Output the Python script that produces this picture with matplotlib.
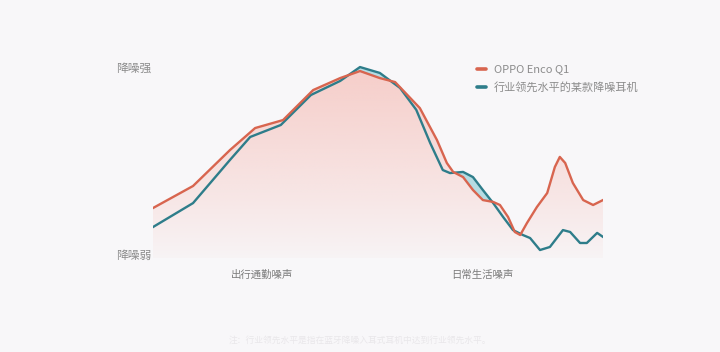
import numpy as np
import matplotlib
matplotlib.use('Agg')
import matplotlib.pyplot as plt
from matplotlib.colors import to_rgb

plt.rcParams['font.family'] = ['Noto Sans CJK SC', 'DejaVu Sans']

# position along the chart (0..100) and noise cancelling level (0 = weak, 100 = strong)
pos_q1 = [0, 8.9, 17.1, 22.7, 28.9, 35.6, 41.6, 46.0, 50.4, 53.8, 59.3, 63.1, 65.3,
          66.7, 68.9, 71.1, 73.3, 75.6, 77.1, 78.9, 80.4, 81.6, 83.1, 85.3, 87.6,
          89.3, 90.4, 91.6, 93.3, 95.6, 97.8, 100]
oppo_q1 = [26.3, 37.9, 56.8, 68.4, 72.6, 88.4, 94.7, 98.4, 94.7, 92.6, 78.9, 62.1, 50.0,
           45.3, 42.6, 35.8, 30.5, 29.5, 27.9, 21.6, 13.7, 12.1, 18.4, 26.8, 34.2,
           47.9, 53.2, 50.0, 39.5, 30.5, 27.9, 30.5]

pos_rival = [0, 8.9, 17.1, 21.6, 28.4, 35.1, 41.6, 46.0, 50.4, 54.9, 58.5, 61.6, 64.4,
             66.0, 68.9, 71.1, 73.3, 75.6, 77.8, 80.0, 82.2, 83.8, 86.0, 88.2, 91.1,
             92.7, 94.9, 96.4, 98.7, 100]
rival = [16.3, 28.9, 51.6, 63.7, 70.0, 85.8, 93.2, 100.5, 97.4, 89.5, 78.0, 60.5, 46.3,
         44.7, 45.3, 42.6, 35.8, 28.9, 21.6, 14.7, 12.1, 10.5, 4.2, 5.8, 14.7,
         13.7, 7.9, 7.9, 13.2, 11.1]

names = ['OPPO Enco Q1', '行业领先水平的某款降噪耳机']
zone_labels = ['出行通勤噪声', '日常生活噪声']
footnote = '注：行业领先水平是指在蓝牙降噪入耳式耳机中达到行业领先水平。'

bg = '#f8f7f9'
c_q1 = '#d8654f'
c_rival = '#2e7d8a'
grey = '#8c8c8c'

W, H = 720, 352
fig = plt.figure(figsize=(W / 100, H / 100), dpi=100, facecolor=bg)

# axes placed in pixel terms: x 153..603, y 258 (value 0) .. 48
left, right, bottom_px, top_px = 153, 603, 258, 48
ax = fig.add_axes([left / W, (H - bottom_px) / H, (right - left) / W, (bottom_px - top_px) / H])
ax.set_xlim(0, 100)
ax.set_ylim(0, (bottom_px - top_px) / 1.9)
ax.axis('off')
ax.set_facecolor('none')

# gradient fill under the OPPO curve
x_q1 = np.array(pos_q1)
y_q1 = np.array(oppo_q1)
shape = ax.fill_between(x_q1, y_q1, 0, facecolor='none', edgecolor='none')
ymax = ax.get_ylim()[1]
n = 256
grad = np.zeros((n, 2, 4))
r, g, b = to_rgb('#f6c3bd')
grad[..., 0], grad[..., 1], grad[..., 2] = r, g, b
alpha = np.linspace(0.05, 0.85, n) ** 0.9
grad[..., 3] = alpha[:, None]
im = ax.imshow(grad, extent=[0, 100, 0, ymax], origin='lower', aspect='auto', zorder=1)
im.set_clip_path(shape.get_paths()[0], transform=ax.transData)

# light blue where the rival curve sits above OPPO
x_r = np.array(pos_rival)
y_r = np.array(rival)
xs = np.union1d(x_q1, x_r)
q1_i = np.interp(xs, x_q1, y_q1)
r_i = np.interp(xs, x_r, y_r)
ax.fill_between(xs, q1_i, r_i, where=r_i > q1_i, interpolate=True,
                color='#9fd3dc', alpha=0.75, lw=0, zorder=2)

ax.plot(x_r, y_r, color=c_rival, lw=1.7, solid_joinstyle='round', zorder=3)
ax.plot(x_q1, y_q1, color=c_q1, lw=1.7, solid_joinstyle='round', zorder=4)

# legend drawn by hand
for i, (name, col) in enumerate(zip(names, [c_q1, c_rival])):
    yy = 1 - (69 + 18 * i) / H
    fig.add_artist(plt.Line2D([477 / W, 486 / W], [yy, yy], color=col, lw=2.6,
                              solid_capstyle='round'))
    fig.text(494 / W, yy, name, color=grey, fontsize=8, va='center', ha='left')

fig.text(134 / W, 1 - 68 / H, '降噪强', color=grey, fontsize=8.5, ha='center', va='center')
fig.text(134 / W, 1 - 255 / H, '降噪弱', color=grey, fontsize=8.5, ha='center', va='center')
fig.text(262 / W, 1 - 275 / H, zone_labels[0], color='#7c7c7c', fontsize=7.5, ha='center', va='center')
fig.text(482 / W, 1 - 275 / H, zone_labels[1], color='#7c7c7c', fontsize=7.5, ha='center', va='center')
fig.text(360 / W, 1 - 340 / H, footnote, color='#e9e7ea', fontsize=6.3, ha='center', va='center')

fig.savefig('out.png', dpi=100, facecolor=bg)
